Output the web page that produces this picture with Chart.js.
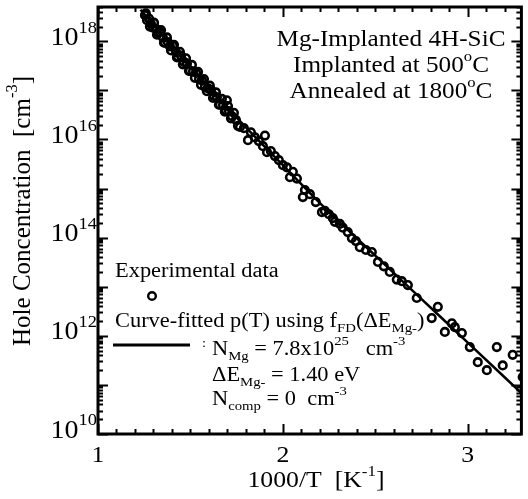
<!DOCTYPE html>
<html>
<head>
<meta charset="utf-8">
<script src="https://cdn.jsdelivr.net/npm/chart.js@4.4.1/dist/chart.umd.min.js"></script>
<style>
  html, body { margin: 0; padding: 0; background: #fff; }
  #wrap { width: 528px; height: 499px; }
</style>
</head>
<body>
<div id="wrap"><canvas id="holeChart" width="528" height="499"></canvas></div>
<script>
/* Hole concentration vs 1000/T — Mg-implanted 4H-SiC */

// experimental points (1000/T, p in cm^-3)
var expX = [1.254, 1.265, 1.276, 1.286, 1.297, 1.314, 1.324, 1.335, 1.351, 1.362, 1.378, 1.389,
    1.405, 1.422, 1.432, 1.449, 1.465, 1.481, 1.497, 1.514, 1.530, 1.546, 1.562, 1.578, 1.595,
    1.611, 1.627, 1.643, 1.659, 1.676, 1.692, 1.708, 1.724, 1.746, 1.768, 1.697,
    1.259, 1.281, 1.303, 1.319, 1.341, 1.357, 1.373, 1.395, 1.411, 1.427, 1.443, 1.459, 1.476,
    1.492, 1.508, 1.524, 1.541, 1.557, 1.573, 1.589, 1.605, 1.622, 1.638, 1.654, 1.670, 1.686,
    1.703, 1.719, 1.735, 1.757,
    1.789, 1.811, 1.827, 1.849, 1.870, 1.892, 1.903, 1.914, 1.935, 1.957, 1.978, 2.000, 2.022,
    2.038, 2.054, 2.076, 2.108, 2.119, 2.146, 2.178, 2.211, 2.227, 2.249, 2.270, 2.281, 2.308,
    2.324, 2.351, 2.373, 2.395, 2.416, 2.449, 2.481, 2.514, 2.546, 2.578, 2.616, 2.643, 2.676,
    2.724, 2.805, 2.838, 2.876, 2.914, 2.930, 2.968, 3.011, 3.054, 3.103, 3.157, 3.189, 3.243, 3.297];
var expP = [3.4e18, 2.7e18, 2.9e18, 2.3e18, 1.9e18, 1.8e18, 1.5e18, 1.55e18, 1.2e18, 9.4e17, 9.6e17, 7.9e17,
    8.1e17, 6.0e17, 4.9e17, 5.1e17, 3.8e17, 3.5e17, 2.5e17, 2.45e17, 2.3e17, 1.7e17, 1.6e17, 1.18e17, 1.1e17,
    1.03e17, 7.7e16, 7.2e16, 5.1e16, 5.0e16, 3.9e16, 3.8e16, 3.0e16, 2.5e16, 1.8e16, 6.3e16,
    3.7e18, 2.0e18, 2.4e18, 1.36e18, 1.7e18, 9.4e17, 1.2e18, 6.5e17, 8.5e17, 4.7e17, 6.1e17, 3.4e17, 4.5e17,
    2.5e17, 3.3e17, 1.8e17, 2.4e17, 1.3e17, 1.7e17, 9.6e16, 1.25e17, 7.0e16, 9.1e16, 5.1e16, 6.7e16, 3.7e16,
    4.8e16, 2.7e16, 3.5e16, 1.9e16,
    1.7e16, 9.7e15, 1.4e16, 1.1e16, 9.3e15, 7.3e15, 1.2e16, 5.5e15, 5.8e15, 4.6e15, 3.8e15, 3.0e15, 2.7e15,
    1.7e15, 2.2e15, 1.6e15, 6.7e14, 9.3e14, 7.7e14, 5.3e14, 3.3e14, 3.5e14, 3.0e14, 2.5e14, 2.1e14, 1.9e14,
    1.6e14, 1.3e14, 9.8e13, 8.5e13, 6.4e13, 5.6e13, 5.1e13, 3.2e13, 2.6e13, 2.0e13, 1.4e13, 1.3e13, 1.08e13,
    5.9e12, 2.3e12, 3.9e12, 1.2e12, 1.8e12, 1.5e12, 1.14e12, 5.9e11, 2.9e11, 2.0e11, 5.9e11, 2.5e11, 4.1e11, 1.45e11];

// curve-fitted p(T)
var fitX = [1.23, 1.5, 1.75, 2.0, 2.25, 2.5, 2.75, 3.0, 3.29];
var fitP = [4.4e18, 3.1e17, 2.8e16, 3.0e15, 3.3e14, 4.3e13, 5.6e12, 7.3e11, 6.8e10];

// axis ticks
var xMajor = [1, 2, 3];
var yLabelExp = [10, 12, 14, 16, 18];

var SERIF = '"Liberation Serif", "Times New Roman", serif';
var SX = 1.12; // glyphs in the figure are a bit wide

function zip(xs, ys) {
    return xs.map(function (x, i) { return { x: x, y: ys[i] }; });
}

// draw text made of runs, some raised or lowered
function rich(ctx, segs, x, y, size, align) {
    var w = 0;
    segs.forEach(function (s) {
        var fs = (s.sup || s.sub) ? size * 0.66 : size;
        ctx.font = fs + 'px ' + SERIF;
        s.w = ctx.measureText(s.t).width;
        w += s.w;
    });
    var left = align === 'right' ? x - w * SX : align === 'center' ? x - w * SX / 2 : x;
    ctx.save();
    ctx.translate(left, y);
    ctx.scale(SX, 1);
    ctx.textAlign = 'left';
    ctx.textBaseline = 'middle';
    ctx.fillStyle = '#000';
    var cx = 0;
    segs.forEach(function (s) {
        var fs = (s.sup || s.sub) ? size * 0.66 : size;
        ctx.font = fs + 'px ' + SERIF;
        var dy = s.sup ? -size * 0.4 : s.sub ? size * 0.32 : 0;
        ctx.fillText(s.t, cx, dy);
        cx += s.w;
    });
    ctx.restore();
}

var frame = {
    id: 'frame',
    afterDraw: function (chart) {
        var ctx = chart.ctx, a = chart.chartArea;
        var xs = chart.scales.x, ys = chart.scales.y;
        ctx.save();
        ctx.strokeStyle = '#000';

        // inward ticks, all four sides
        ctx.lineWidth = 2;
        ctx.beginPath();
        for (var t = 10; t <= 33; t++) {
            var v = t / 10;
            if (v > xs.max) break;
            var px = Math.round(xs.getPixelForValue(v)) + 0.5;
            var len = (t % 10 === 0) ? 10 : 5;
            ctx.moveTo(px, a.bottom); ctx.lineTo(px, a.bottom - len);
            ctx.moveTo(px, a.top); ctx.lineTo(px, a.top + len);
        }
        for (var e = 10; e <= 18; e++) {
            for (var m = 1; m <= 9; m++) {
                var val = m * Math.pow(10, e);
                if (val > ys.max) break;
                var py = Math.round(ys.getPixelForValue(val)) + 0.5;
                var l = m === 1 ? 10 : 5;
                ctx.moveTo(a.left, py); ctx.lineTo(a.left + l, py);
                ctx.moveTo(a.right, py); ctx.lineTo(a.right - l, py);
            }
        }
        ctx.stroke();

        // box
        ctx.lineWidth = 3;
        ctx.strokeRect(a.left, a.top, a.right - a.left, a.bottom - a.top);

        // tick labels
        xMajor.forEach(function (v) {
            rich(ctx, [{ t: String(v) }], xs.getPixelForValue(v), 456, 23, 'center');
        });
        yLabelExp.forEach(function (e) {
            var py = ys.getPixelForValue(Math.pow(10, e));
            rich(ctx, [{ t: '10' }, { t: String(e), sup: true }], 97, py - 3, 25, 'right');
        });

        // axis titles
        rich(ctx, [{ t: '1000/T  [K' }, { t: '-1', sup: true }, { t: ']' }], 316, 481, 23, 'center');
        ctx.save();
        ctx.translate(23, 211);
        ctx.rotate(-Math.PI / 2);
        ctx.scale(1 / SX, 1);
        rich(ctx, [{ t: 'Hole Concentration  [cm' }, { t: '-3', sup: true }, { t: ']' }], 0, 0, 25, 'center');
        ctx.restore();

        // sample description
        rich(ctx, [{ t: 'Mg-Implanted 4H-SiC' }], 391, 40, 22.5, 'center');
        rich(ctx, [{ t: 'Implanted at 500' }, { t: 'o', sup: true }, { t: 'C' }], 391, 66, 22.5, 'center');
        rich(ctx, [{ t: 'Annealed at 1800' }, { t: 'o', sup: true }, { t: 'C' }], 391, 92, 22.5, 'center');

        // legend
        rich(ctx, [{ t: 'Experimental data' }], 115, 272, 20, 'left');
        ctx.lineWidth = 2.4;
        ctx.beginPath();
        ctx.arc(152, 296, 3.8, 0, Math.PI * 2);
        ctx.stroke();
        rich(ctx, [{ t: 'Curve-fitted p(T) using f' }, { t: 'FD', sub: true }, { t: '(\u0394E' },
            { t: 'Mg-', sub: true }, { t: ')' }], 115, 322, 20, 'left');
        ctx.lineWidth = 3;
        ctx.beginPath();
        ctx.moveTo(113, 345); ctx.lineTo(190, 345);
        ctx.stroke();
        rich(ctx, [{ t: ':', sup: true }], 202, 352, 20, 'left');
        rich(ctx, [{ t: 'N' }, { t: 'Mg', sub: true }, { t: ' = 7.8x10' }, { t: '25', sup: true },
            { t: '   cm' }, { t: '-3', sup: true }], 212, 350, 20, 'left');
        rich(ctx, [{ t: '\u0394E' }, { t: 'Mg-', sub: true }, { t: ' = 1.40 eV' }], 212, 376, 20, 'left');
        rich(ctx, [{ t: 'N' }, { t: 'comp', sub: true }, { t: ' = 0  cm' }, { t: '-3', sup: true }], 212, 400, 20, 'left');

        ctx.restore();
    }
};

new Chart(document.getElementById('holeChart').getContext('2d'), {
    type: 'line',
    data: {
        datasets: [{
            label: 'Curve-fitted p(T)',
            data: zip(fitX, fitP),
            borderColor: '#000',
            borderWidth: 2.5,
            pointRadius: 0,
            cubicInterpolationMode: 'monotone',
            fill: false
        }, {
            label: 'Experimental data',
            data: zip(expX, expP),
            showLine: false,
            pointStyle: 'circle',
            pointRadius: 3.8,
            pointBorderWidth: 2.6,
            pointBorderColor: '#000',
            pointBackgroundColor: 'rgba(0,0,0,0)'
        }]
    },
    options: {
        responsive: false,
        animation: false,
        layout: { padding: { left: 98, right: 6, top: 7, bottom: 65 } },
        plugins: { legend: { display: false }, tooltip: { enabled: false } },
        scales: {
            x: { type: 'linear', min: 1, max: 3.29, display: false },
            y: { type: 'logarithmic', min: 1e10, max: 5e18, display: false }
        }
    },
    plugins: [frame]
});
</script>
</body>
</html>
